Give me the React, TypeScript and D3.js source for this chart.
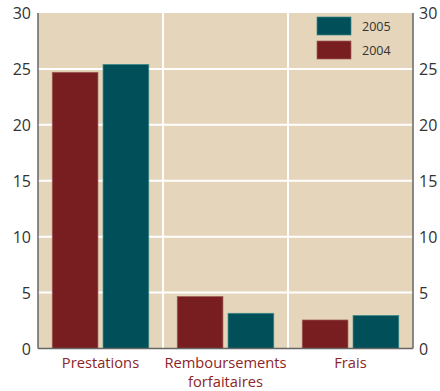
import React from "react";
import * as d3 from "d3";

const categories = ["Prestations", "Remboursements|forfaitaires", "Frais"];
const series = ["2004", "2005"];
const values2004 = [24.7, 4.65, 2.55];
const values2005 = [25.4, 3.15, 2.95];
const yTicks = [0, 5, 10, 15, 20, 25, 30];
const legendOrder = ["2005", "2004"];

const colors: Record<string, string> = { "2004": "#791e20", "2005": "#004f59" };
const strokes: Record<string, string> = { "2004": "#a0605a", "2005": "#3d8a88" };

export default function App() {
  const W = 440, H = 391;
  const left = 38, right = 413, top = 13, bottom = 348.5;
  const x = d3.scaleBand().domain(categories).range([left, right]).padding(0);
  const inner = d3.scaleBand().domain(series).range([0, x.bandwidth()]).paddingInner(0.1).paddingOuter(0.28);
  const y = d3.scaleLinear().domain([0, 30]).range([bottom, top]);
  const data: Record<string, number[]> = { "2004": values2004, "2005": values2005 };
  const font = "'Open Sans', 'Noto Sans', sans-serif";
  return (
    <svg width={W} height={H} style={{ position: "absolute", left: 0, top: 0 }}>
      <rect x={left} y={top} width={right - left} height={bottom - top} fill="#e4d5bb" />
      {yTicks.slice(1, -1).map((t) => (
        <line key={t} x1={left} x2={right} y1={y(t)} y2={y(t)} stroke="#fff" strokeWidth={2} />
      ))}
      {categories.slice(1).map((c) => (
        <line key={c} x1={x(c)!} x2={x(c)!} y1={top} y2={bottom} stroke="#fff" strokeWidth={2} />
      ))}
      {categories.map((c, i) =>
        series.map((s) => (
          <rect
            key={c + s}
            x={x(c)! + inner(s)!}
            y={y(data[s][i])}
            width={inner.bandwidth()}
            height={bottom - y(data[s][i])}
            fill={colors[s]}
            stroke={strokes[s]}
            strokeWidth={0.7}
          />
        ))
      )}
      <line x1={left} x2={left} y1={top} y2={bottom} stroke="#666" strokeWidth={1.5} />
      <line x1={right} x2={right} y1={top} y2={bottom} stroke="#666" strokeWidth={1.5} />
      <line x1={left} x2={right} y1={bottom} y2={bottom} stroke="#666" strokeWidth={1.5} />
      {yTicks.map((t) => (
        <g key={t} fontFamily={font} fontSize={16} fill="#333">
          <text x={31} y={y(t)} textAnchor="end" dominantBaseline="central">{t}</text>
          <text x={419} y={y(t)} textAnchor="start" dominantBaseline="central">{t}</text>
        </g>
      ))}
      {categories.map((c) => {
        const lines = c.split("|");
        const cx = x(c)! + x.bandwidth() / 2;
        return lines.map((l, j) => (
          <text key={c + j} x={cx} y={362 + j * 19} textAnchor="middle" dominantBaseline="central"
            fontFamily={font} fontSize={14.7} fill="#8c2626">{l}</text>
        ));
      })}
      {legendOrder.map((s, i) => (
        <g key={s}>
          <rect x={317} y={17 + i * 24} width={34} height={18} fill={colors[s]} stroke={strokes[s]} strokeWidth={0.7} />
          <text x={362} y={26.5 + i * 24} dominantBaseline="central" fontFamily={font} fontSize={12.5} fill="#333">{s}</text>
        </g>
      ))}
    </svg>
  );
}
